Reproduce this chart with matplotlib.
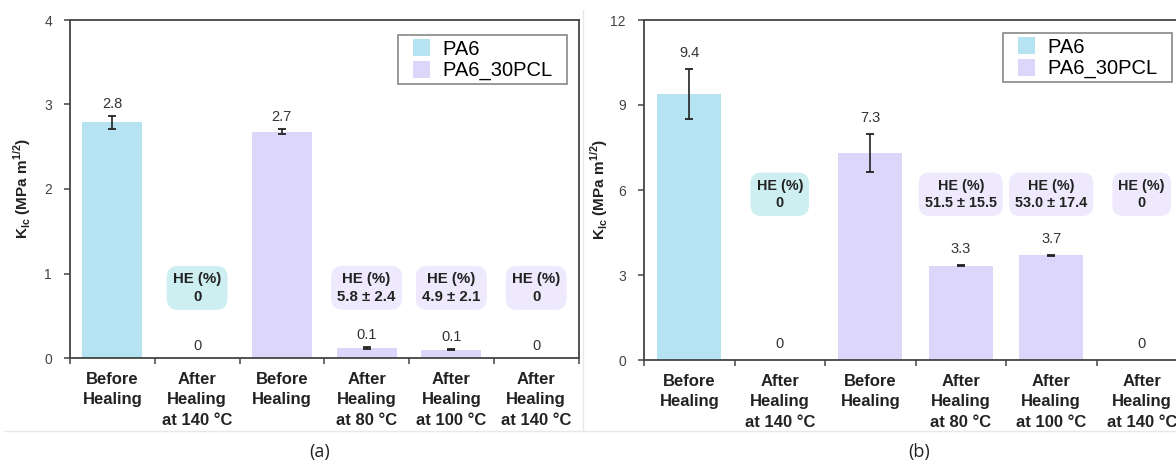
import matplotlib.pyplot as plt
import numpy as np
from matplotlib.lines import Line2D
from matplotlib.patches import Patch, Rectangle
from matplotlib.legend_handler import HandlerPatch

plt.rcParams['font.family'] = ['Liberation Sans', 'DejaVu Sans']
plt.rcParams['mathtext.fontset'] = 'custom'
plt.rcParams['mathtext.rm'] = 'Liberation Sans'
plt.rcParams['mathtext.bf'] = 'Liberation Sans:bold'

# Данные
categories = ["Before\nHealing", "After\nHealing\nat 140 °C", "Before\nHealing",
              "After\nHealing\nat 80 °C", "After\nHealing\nat 100 °C", "After\nHealing\nat 140 °C"]
materials = ["PA6", "PA6", "PA6_30PCL", "PA6_30PCL", "PA6_30PCL", "PA6_30PCL"]

kic_a = [2.79, 0, 2.68, 0.12, 0.10, 0]
err_a = [0.075, 0, 0.035, 0.01, 0.01, 0]
lbl_a = ["2.8", "0", "2.7", "0.1", "0.1", "0"]
he_a = [None, "0", None, "5.8 ± 2.4", "4.9 ± 2.1", "0"]

kic_b = [9.4, 0, 7.3, 3.33, 3.7, 0]
err_b = [0.88, 0, 0.66, 0.02, 0.02, 0]
lbl_b = ["9.4", "0", "7.3", "3.3", "3.7", "0"]
he_b = [None, "0", None, "51.5 ± 15.5", "53.0 ± 17.4", "0"]

bar_colors = {"PA6": "#b5e3f2", "PA6_30PCL": "#ddd6fb"}
box_colors = {"PA6": "#cdeff1", "PA6_30PCL": "#eee9fc"}


def square_patch(legend, orig_handle, xdescent, ydescent, width, height, fontsize):
    # квадратный маркер у правого края области значка
    side = height
    return Rectangle((-xdescent + width - side, -ydescent), side, side)


def draw_panel(ax, values, errors, labels, he, ymax, yticks, he_y, lbl_off, he_fs):
    x = np.arange(len(categories))
    colors = [bar_colors[m] for m in materials]
    ax.bar(x, values, width=0.71, color=colors, edgecolor='none', zorder=2)

    # планки погрешностей только для ненулевых
    for xi, v, e in zip(x, values, errors):
        if e > 0:
            ax.errorbar(xi, v, yerr=e, fmt='none', ecolor='#222222',
                        elinewidth=1.2, capsize=2.6, capthick=1.3, zorder=3)

    for xi, v, e, t in zip(x, values, errors, labels):
        ax.annotate(t, (xi, v + e), xytext=(0, lbl_off), textcoords='offset points',
                    ha='center', va='center', fontsize=10.5, color='#333333')

    for xi, t, m in zip(x, he, materials):
        if t is None:
            continue
        ax.text(xi, he_y, f"HE (%)\n{t}", ha='center', va='center',
                fontsize=he_fs, fontweight='bold', color='#222222', linespacing=1.3,
                bbox=dict(boxstyle='round,pad=0.42,rounding_size=0.75',
                          fc=box_colors[m], ec='none'), zorder=4)

    ax.set_xlim(-0.5, len(categories) - 0.5)
    ax.set_ylim(0, ymax)
    ax.set_yticks(yticks)
    ax.set_xticks(np.arange(len(categories) + 1) - 0.5)
    ax.set_xticklabels([])
    ax.set_xticks(x, minor=True)
    ax.set_xticklabels(categories, minor=True, fontsize=12, fontweight='bold',
                       color='#222222')
    for t in ax.get_xticklabels(minor=True):
        t.set_linespacing(1.45)
    ax.tick_params(axis='x', which='minor', length=0, pad=10)
    ax.tick_params(axis='x', which='major', length=4, width=1.1, color='#444444')
    ax.tick_params(axis='y', length=4, width=1.1, color='#444444', pad=9,
                   labelsize=10, labelcolor='#444444')
    for s in ax.spines.values():
        s.set_color('#444444')
        s.set_linewidth(1.3)

    ax.set_ylabel(r"K$_{\mathbf{Ic}}$ (MPa m$^{\mathbf{1/2}}$)", fontsize=11,
                  fontweight='bold', color='#222222')

    handles = [Patch(facecolor=bar_colors[k], edgecolor='none', label=k + "  ")
               for k in bar_colors]
    return handles


fig = plt.figure(figsize=(11.76, 4.65), dpi=100)
W, H = 1176, 465

ax1 = fig.add_axes([70 / W, (H - 358) / H, 508.5 / W, 338 / H])
ax2 = fig.add_axes([644 / W, (H - 360) / H, 543 / W, 340 / H])

h = draw_panel(ax1, kic_a, err_a, lbl_a, he_a, 4, [0, 1, 2, 3, 4], 0.83, 8.5, 10.8)
draw_panel(ax2, kic_b, err_b, lbl_b, he_b, 12, [0, 3, 6, 9, 12], 5.85, 11.5, 10.4)

ax1.yaxis.set_label_coords(-37 / 508.5, 0.5)
ax2.yaxis.set_label_coords(-34 / 543, 0.5)

for ax, anchor in [(ax1, (0.977, 0.956)), (ax2, (0.972, 0.962))]:
    leg = ax.legend(handles=h, loc='upper right', bbox_to_anchor=anchor,
                    borderaxespad=0, fontsize=14.5, fancybox=False, framealpha=1,
                    edgecolor='#888888', handlelength=1.4, handleheight=0.95,
                    handletextpad=0.65, labelspacing=0.1, borderpad=0.2,
                    handler_map={Patch: HandlerPatch(patch_func=square_patch)})
    leg.get_frame().set_linewidth(1.2)
    leg.set_zorder(5)

# разделители панелей
fig.add_artist(Line2D([583 / W, 583 / W], [1 - 10 / H, 1 - 430 / H],
                      transform=fig.transFigure, color='#e8e8e8', lw=1))
fig.add_artist(Line2D([5 / W, 1], [1 - 431 / H, 1 - 431 / H],
                      transform=fig.transFigure, color='#e8e8e8', lw=1))

fig.text(320 / W, 1 - 452 / H, "(a)", ha='center', va='center', fontsize=13,
         family=['Open Sans', 'DejaVu Sans'], color='#222222')
fig.text(919 / W, 1 - 452 / H, "(b)", ha='center', va='center', fontsize=13,
         family=['Open Sans', 'DejaVu Sans'], color='#222222')

plt.savefig('out.png', dpi=100)
